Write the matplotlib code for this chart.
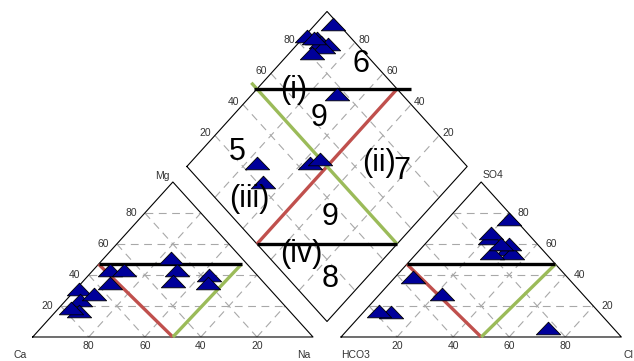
import numpy as np
import matplotlib.pyplot as plt
from matplotlib.path import Path

plt.rcParams['font.family'] = ['Liberation Sans', 'DejaVu Sans']

SQ = np.sqrt(3) / 2
GAP = 0.1

# major ions, % of meq/l
ca   = np.array([51, 68, 71, 75, 46, 55, 64, 77, 27, 25, 17, 20, 32])
mg   = np.array([43, 31, 24, 17, 43, 35, 28, 19, 43, 51, 40, 35, 36])
na   = np.array([ 6,  1,  5,  8, 11, 10,  8,  4, 30, 24, 43, 45, 32])
hco3 = np.array([ 2, 15, 12, 12, 10, 13, 19, 13, 23, 74, 55, 50, 78])
so4  = np.array([76, 64, 57, 54, 60, 67, 54, 60,  6, 16, 39, 28, 17])
cl   = np.array([22, 21, 31, 34, 30, 20, 27, 27, 71, 10,  6, 22,  5])

ticks = [20, 40, 60, 80]


def cation_xy(ca, mg, na):
    ca, mg, na = (np.asarray(v, float) for v in (ca, mg, na))
    t = ca + mg + na
    return (na + mg / 2) / t, mg / t * SQ


def anion_xy(hco3, so4, cl):
    hco3, so4, cl = (np.asarray(v, float) for v in (hco3, so4, cl))
    t = hco3 + so4 + cl
    return 1 + GAP + (cl + so4 / 2) / t, so4 / t * SQ


def diamond_xy(nak, acid):
    nak, acid = np.asarray(nak, float), np.asarray(acid, float)
    return (nak + 1 + GAP + acid) / 2, SQ * (1 + GAP + acid - nak)


fig = plt.figure(figsize=(6.34, 3.61), dpi=100)
ax = fig.add_axes([0, 0, 1, 1])
ax.set_xlim(-0.1167, 2.1452)
ax.set_ylim(-0.1341, 1.8827)
ax.axis('off')

grid = dict(color='#a8a8a8', lw=0.8, ls=(0, (7, 5)), zorder=1)
edge = dict(color='black', lw=0.8, zorder=2)
tick_font = dict(fontsize=7.5, color='#333333')

# grid lines
for v in ticks:
    w = 100 - v
    ax.plot(*cation_xy([w, 0], [v, v], [0, w]), **grid)
    ax.plot(*cation_xy([v, v], [w, 0], [0, w]), **grid)
    ax.plot(*cation_xy([w, 0], [0, w], [v, v]), **grid)
    ax.plot(*anion_xy([w, 0], [v, v], [0, w]), **grid)
    ax.plot(*anion_xy([v, v], [w, 0], [0, w]), **grid)
    ax.plot(*anion_xy([w, 0], [0, w], [v, v]), **grid)
    ax.plot(*diamond_xy([v / 100, v / 100], [0, 1]), **grid)
    ax.plot(*diamond_xy([0, 1], [v / 100, v / 100]), **grid)

# outlines
ax.plot(*cation_xy([100, 0, 0, 100], [0, 0, 100, 0], [0, 100, 0, 0]), **edge)
ax.plot(*anion_xy([100, 0, 0, 100], [0, 0, 100, 0], [0, 100, 0, 0]), **edge)
ax.plot(*diamond_xy([0, 1, 1, 0, 0], [0, 0, 1, 1, 0]), **edge)

# field boundaries
red, green = '#c0504d', '#9bbb59'
thick = dict(lw=2.4, solid_capstyle='butt', zorder=3)
ax.plot(*cation_xy([50, 53], [0, 47], [50, 0]), color=red, **thick)
ax.plot(*cation_xy([50, 2], [0, 47], [50, 51]), color=green, **thick)
ax.plot(*cation_xy([53, 2], [47, 47], [0, 51]), color='black', **thick)
ax.plot(*anion_xy([50, 53], [0, 47], [50, 0]), color=red, **thick)
ax.plot(*anion_xy([50, 0], [0, 47], [50, 53]), color=green, **thick)
ax.plot(*anion_xy([53, 0], [47, 47], [0, 53]), color='black', **thick)
ax.plot(*diamond_xy([0.5, 0.5], [1.0, 0.0]), color=red, **thick)
ax.plot(*diamond_xy([-0.04, 1.0], [0.5, 0.5]), color=green, **thick)
ax.plot(*diamond_xy([-0.01, 0.55], [0.49, 1.05]), color='black', **thick)
ax.plot(*diamond_xy([0.5, 1.0], [0.0, 0.5]), color='black', **thick)

# tick labels
for v in ticks:
    x, _ = cation_xy(v, 0, 100 - v)
    ax.text(x, -0.05, str(v), ha='center', va='center', **tick_font)
    x, y = cation_xy(100 - v, v, 0)
    ax.text(x - 0.029, y, str(v), ha='right', va='center', **tick_font)
    x, _ = anion_xy(100 - v, 0, v)
    ax.text(x, -0.05, str(v), ha='center', va='center', **tick_font)
    x, y = anion_xy(0, v, 100 - v)
    ax.text(x + 0.029, y, str(v), ha='left', va='center', **tick_font)
    x, y = diamond_xy(0, v / 100)
    ax.text(x - 0.014, y + 0.014, str(v), ha='right', va='center', **tick_font)
    x, y = diamond_xy(1 - v / 100, 1)
    ax.text(x + 0.011, y + 0.014, str(v), ha='left', va='center', **tick_font)

# ion names
ax.text(-0.069, -0.1006, 'Ca', ha='left', va='center', **tick_font)
ax.text(0.99, -0.1006, 'Na', ha='right', va='center', **tick_font)
ax.text(0.49, 0.899, 'Mg', ha='right', va='center', **tick_font)
ax.text(1.102, -0.1006, 'HCO3', ha='left', va='center', **tick_font)
ax.text(2.106, -0.1006, 'Cl', ha='left', va='center', **tick_font)
ax.text(1.605, 0.905, 'SO4', ha='left', va='center', **tick_font)

# field numbers
big = dict(fontsize=22, ha='center', va='center', color='black', zorder=5)
for s, x, y in [('6', 1.171, 1.525), ('(i)', 0.930, 1.380), ('9', 1.023, 1.226),
                ('5', 0.731, 1.031), ('(ii)', 1.235, 0.972), ('7', 1.318, 0.925),
                ('(iii)', 0.771, 0.771), ('9', 1.061, 0.673), ('(iv)', 0.957, 0.464),
                ('8', 1.061, 0.324)]:
    ax.text(x, y, s, **big)

# samples
tri = Path([(-1, -0.52), (1, -0.52), (0, 0.52), (-1, -0.52)],
           [Path.MOVETO, Path.LINETO, Path.LINETO, Path.CLOSEPOLY])
mk = dict(ls='none', marker=tri, ms=17.5, mfc='#00009a', mec='black', mew=0.6, zorder=4)
tot_c = ca + mg + na
tot_a = hco3 + so4 + cl
ax.plot(*cation_xy(ca, mg, na), **mk)
ax.plot(*anion_xy(hco3, so4, cl), **mk)
ax.plot(*diamond_xy(na / tot_c, (so4 + cl) / tot_a), **mk)

fig.savefig('out.png', dpi=100)
